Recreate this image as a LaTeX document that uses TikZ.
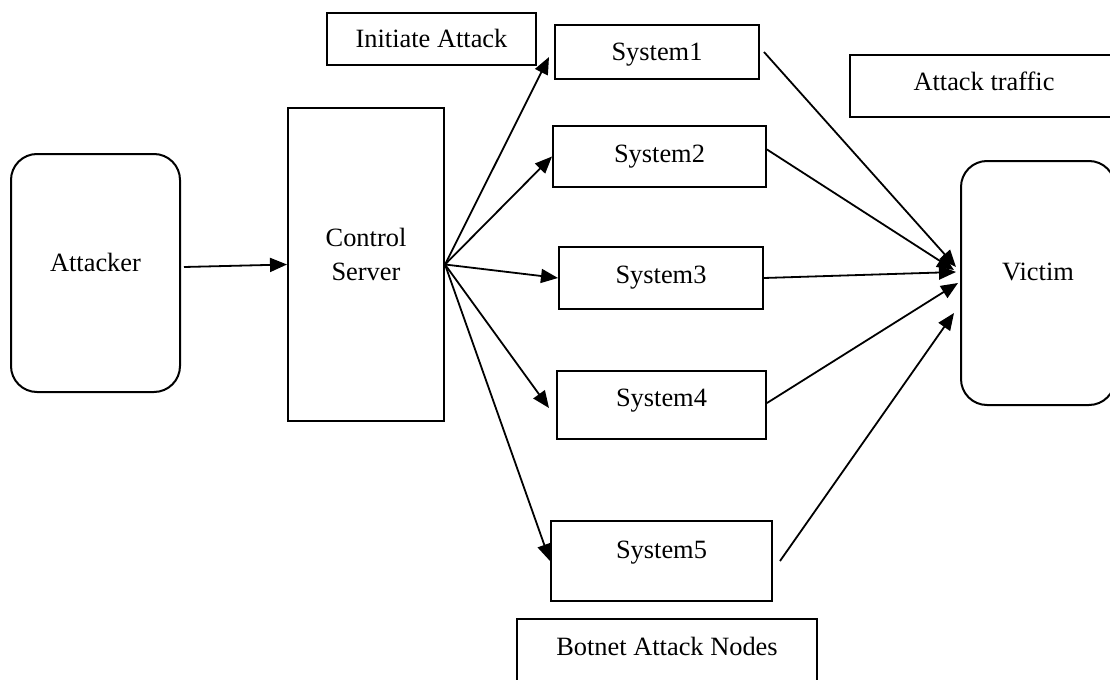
\documentclass[tikz,border=0pt]{standalone}
\usepackage{fontspec}
\setmainfont{Liberation Serif}
\usetikzlibrary{arrows.meta}
\tikzstyle{box} = [rectangle, draw=black, line width=1pt, inner sep=0pt, text height=11pt, text depth=2.2pt, align=center]
\tikzstyle{roundbox} = [box, rounded corners=13pt]
\tikzstyle{arrow} = [line width=0.9pt, -{Triangle[length=8.5pt,width=7pt]}]

\begin{document}
\begin{tikzpicture}[x=0.5pt, y=-0.5pt, font=\fontsize{13.2}{17}\selectfont]
\useasboundingbox (0,0) rectangle (1110,680);

%% NODES

\node (att) [roundbox, minimum width=84.5pt, minimum height=119pt, text depth=12.2pt] at (95.5,273) {Attacker};
\node (cs) [box, minimum width=78pt, minimum height=156.5pt, text height=28pt, text depth=12.2pt] at (366,264.5) {Control\\Server};
\node (init) [box, minimum width=104.5pt, minimum height=26pt] at (431.5,39) {Initiate Attack};
\node (s1) [box, minimum width=102pt, minimum height=27pt] at (657,52) {System1};
\node (s2) [box, minimum width=106.5pt, minimum height=30.5pt, text depth=5.2pt] at (659.5,156.5) {System2};
\node (s3) [box, minimum width=102pt, minimum height=31pt, text depth=5.2pt] at (661,278) {System3};
\node (s4) [box, minimum width=104.5pt, minimum height=34pt, text depth=9.2pt] at (661.5,405) {System4};
\node (s5) [box, minimum width=110.5pt, minimum height=40pt, text depth=13.2pt] at (661.5,561) {System5};
\node (traffic) [box, minimum width=134pt, minimum height=31pt, text depth=6.2pt] at (984,86) {Attack traffic};
\node (victim) [roundbox, minimum width=77pt, minimum height=122pt, text depth=13.2pt] at (1038,283) {Victim};
\node (botnet) [box, minimum width=150pt, minimum height=35.5pt, text depth=9.7pt] at (667,654.5) {Botnet Attack Nodes};

%% ARROWS

\draw [arrow] ([shift={(1.5pt,3pt)}]att.east) -- (cs.west);
\draw [arrow] (cs.east) -- ([shift={(-2.5pt,-2.5pt)}]s1.west);
\draw [arrow] (cs.east) -- (s2.west);
\draw [arrow] (cs.east) -- (s3.west);
\draw [arrow] (cs.east) -- ([shift={(-3.5pt,-1.5pt)}]s4.west);
\draw [arrow] (cs.east) -- (s5.west);

\draw [arrow] ([xshift=2pt]s1.east) -- ([shift={(-2pt,8pt)}]victim.west);
\draw [arrow] ([yshift=3.5pt]s2.east) -- ([shift={(-3pt,6.5pt)}]victim.west);
\draw [arrow] (s3.east) -- ([shift={(-2pt,5.5pt)}]victim.west);
\draw [arrow] ([yshift=1pt]s4.east) -- ([xshift=-1pt]victim.west);
\draw [arrow] ([xshift=3.5pt]s5.east) -- ([shift={(-3pt,-15pt)}]victim.west);
\end{tikzpicture}
\end{document}
